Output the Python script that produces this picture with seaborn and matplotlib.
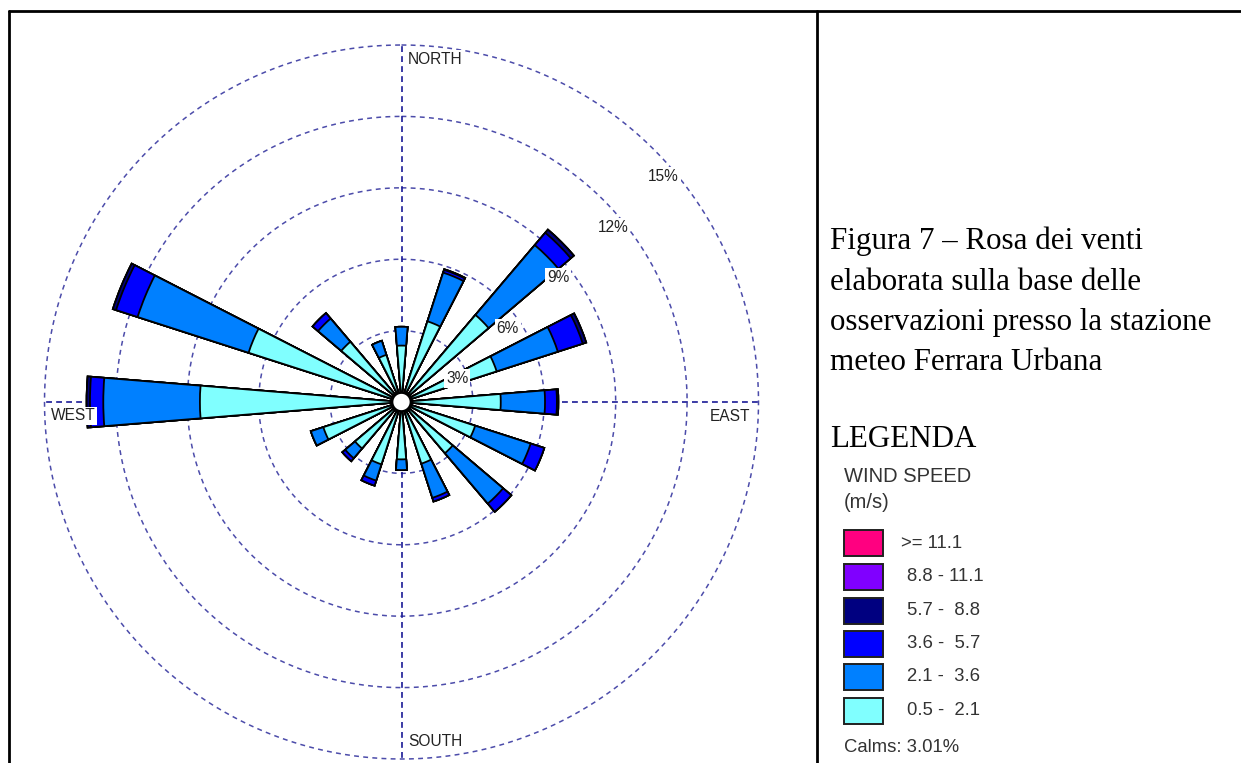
import numpy as np
import pandas as pd
import matplotlib
matplotlib.use("Agg")
import matplotlib.pyplot as plt
from matplotlib.patches import Rectangle
from matplotlib.lines import Line2D
import seaborn as sns

# ---------------------------------------------------------------- data
directions = ["N", "NNE", "NE", "ENE", "E", "ESE", "SE", "SSE",
              "S", "SSW", "SW", "WSW", "W", "WNW", "NW", "NNW"]

# frequency (%) of each wind-speed class per direction sector
freq_0_5_2_1 = [2.37, 3.56, 4.80, 4.20, 4.17, 3.25, 2.82, 2.72,
                2.41, 2.75, 2.56, 3.45, 8.47, 6.75, 3.32, 2.08]
freq_2_1_3_6 = [0.79, 2.15, 3.85, 2.70, 1.86, 2.45, 2.78, 1.51,
                0.45, 0.72, 0.54, 0.55, 4.06, 4.90, 1.28, 0.62]
freq_3_6_5_7 = [0.00, 0.12, 0.68, 1.10, 0.50, 0.60, 0.45, 0.16,
                0.00, 0.22, 0.16, 0.00, 0.56, 0.95, 0.30, 0.00]
freq_5_7_8_8 = [0.00, 0.03, 0.17, 0.15, 0.06, 0.00, 0.00, 0.00,
                0.00, 0.00, 0.00, 0.00, 0.14, 0.14, 0.00, 0.00]
freq_8_8_11_1 = [0.0] * 16
freq_ge_11_1 = [0.0] * 16

speed_classes = ["0.5 -  2.1", "2.1 -  3.6", "3.6 -  5.7",
                 "5.7 -  8.8", "8.8 - 11.1", ">= 11.1"]
class_colors = ["#80FFFF", "#0080FF", "#0000FF",
                "#000080", "#8000FF", "#FF0080"]
calms_pct = 3.01
ring_values = [3, 6, 9, 12, 15]
compass_labels = ["NORTH", "EAST", "SOUTH", "WEST"]

caption_lines = ["Figura 7 \u2013 Rosa dei venti",
                 "elaborata sulla base delle",
                 "osservazioni presso la stazione",
                 "meteo Ferrara Urbana"]
legend_heading = "LEGENDA"
legend_title = ["WIND SPEED", "(m/s)"]

# ---------------------------------------------------------------- frame
sns.set_style("white")
plt.rcParams["font.family"] = ["Liberation Sans", "DejaVu Sans"]

W, H = 1241, 763
fig = plt.figure(figsize=(W / 100, H / 100), dpi=100)
fig.patch.set_facecolor("white")


def fx(px):
    return px / W


def fy(py):
    return 1 - py / H


# polar rose: centre (401.5, 402) px, 15 % ring radius 357 px
cx, cy, R = 401.5, 402.0, 357.0
ax = fig.add_axes([fx(cx - R), fy(cy + R), 2 * R / W, 2 * R / H],
                  projection="polar")
ax.set_theta_zero_location("N")
ax.set_theta_direction(-1)

# long table of cumulative radii, drawn outermost class first
sector_deg = 22.5
theta = np.deg2rad(np.arange(len(directions)) * sector_deg)
layers = [freq_0_5_2_1, freq_2_1_3_6, freq_3_6_5_7,
          freq_5_7_8_8, freq_8_8_11_1, freq_ge_11_1]
cum = np.cumsum(np.array(layers), axis=0)
rows = []
for k, cls in enumerate(speed_classes):
    for i, d in enumerate(directions):
        rows.append({"direction": d, "theta": theta[i],
                     "class": cls, "cum": cum[k, i]})
df = pd.DataFrame(rows)

palette = dict(zip(speed_classes, class_colors))
wedge_rad = np.deg2rad(9.3)
sns.barplot(data=df, x="theta", y="cum", hue="class",
            hue_order=speed_classes[::-1], palette=palette,
            dodge=False, native_scale=True,
            width=wedge_rad / np.deg2rad(sector_deg),
            saturation=1, errorbar=None, legend=False,
            edgecolor="black", linewidth=1.3, ax=ax, zorder=2)

ax.set_xlim(0, 2 * np.pi)
ax.set_ylim(0, ring_values[-1])
ax.set_xlabel("")
ax.set_ylabel("")
ax.set_xticks([])
ax.set_yticks([])
ax.grid(False)
ax.spines["polar"].set_visible(False)
ax.patch.set_alpha(0)

# dashed percentage rings
tt = np.linspace(0, 2 * np.pi, 721)
for v in ring_values:
    ax.plot(tt, np.full_like(tt, v), color="#4c4caa", lw=1.1,
            ls=(0, (3.2, 2.8)), zorder=1, clip_on=False)

# dashed compass axes
for a in [0, 90, 180, 270]:
    ax.plot([np.deg2rad(a)] * 2, [0, ring_values[-1]], color="#1a1a96",
            lw=1.2, ls=(0, (3.5, 2.5)), zorder=1, clip_on=False)

# calm circle at the centre
ax.fill(tt, np.full_like(tt, 0.38), facecolor="white", edgecolor="black",
        lw=1.3, zorder=6)

# ring labels
lab_kw = dict(textcoords="offset pixels", fontsize=11.2, color="#222222",
              va="center", ha="left", zorder=8, annotation_clip=False,
              bbox=dict(boxstyle="square,pad=0.12", fc="white", ec="none"))
for v in ring_values:
    ax.annotate(f"{v}%", xy=(np.deg2rad(45), v), xytext=(-6, -27), **lab_kw)

# compass labels
comp_kw = dict(textcoords="offset pixels", fontsize=11.2, color="#222222",
               va="center", zorder=8, annotation_clip=False,
               bbox=dict(boxstyle="square,pad=0.12", fc="white", ec="none"))
ax.annotate(compass_labels[0], xy=(0, 15), xytext=(6, -14), ha="left", **comp_kw)
ax.annotate(compass_labels[1], xy=(np.pi / 2, 15), xytext=(-8, -15), ha="right", **comp_kw)
ax.annotate(compass_labels[2], xy=(np.pi, 15), xytext=(7, 18), ha="left", **comp_kw)
ax.annotate(compass_labels[3], xy=(1.5 * np.pi, 15), xytext=(6, -14), ha="left", **comp_kw)

# ---------------------------------------------------------------- table lines
lw_border = 2.0
fig.add_artist(Line2D([fx(8.7), 1.0], [fy(10.5), fy(10.5)], color="black",
                      lw=lw_border, transform=fig.transFigure))
fig.add_artist(Line2D([fx(8.7), fx(8.7)], [fy(10.5), 0], color="black",
                      lw=lw_border, transform=fig.transFigure))
fig.add_artist(Line2D([fx(817), fx(817)], [fy(10.5), 0], color="black",
                      lw=lw_border, transform=fig.transFigure))

# ---------------------------------------------------------------- caption
serif = ["Liberation Serif", "DejaVu Serif"]
for line, ypx in zip(caption_lines, [241, 283, 323, 363]):
    fig.text(fx(830), fy(ypx), line, family=serif, fontsize=22.3,
             va="center", ha="left", color="black")
fig.text(fx(830), fy(439), legend_heading, family=serif, fontsize=22.3,
         va="center", ha="left", color="black")

# ---------------------------------------------------------------- legend
fig.text(fx(844), fy(476), legend_title[0], fontsize=14.5, color="#333333",
         va="center", ha="left")
fig.text(fx(844), fy(503), legend_title[1], fontsize=14.5, color="#333333",
         va="center", ha="left")
box_top = [530, 563.5, 597.5, 630.5, 663.5, 697.5]
for i, (cls, col) in enumerate(zip(speed_classes[::-1], class_colors[::-1])):
    top = box_top[i]
    fig.add_artist(Rectangle((fx(843.5), fy(top + 26)), 39 / W, 26 / H,
                             facecolor=col, edgecolor="#202020", lw=1.4,
                             transform=fig.transFigure))
    tx = 901 if cls.startswith(">") else 907
    fig.text(fx(tx), fy(top + 13), cls, fontsize=13.3, color="#333333",
             va="center", ha="left")
fig.text(fx(844), fy(748), f"Calms: {calms_pct:.2f}%", fontsize=13.3,
         color="#333333", va="center", ha="left")

fig.savefig("out.png", dpi=100, facecolor="white")
